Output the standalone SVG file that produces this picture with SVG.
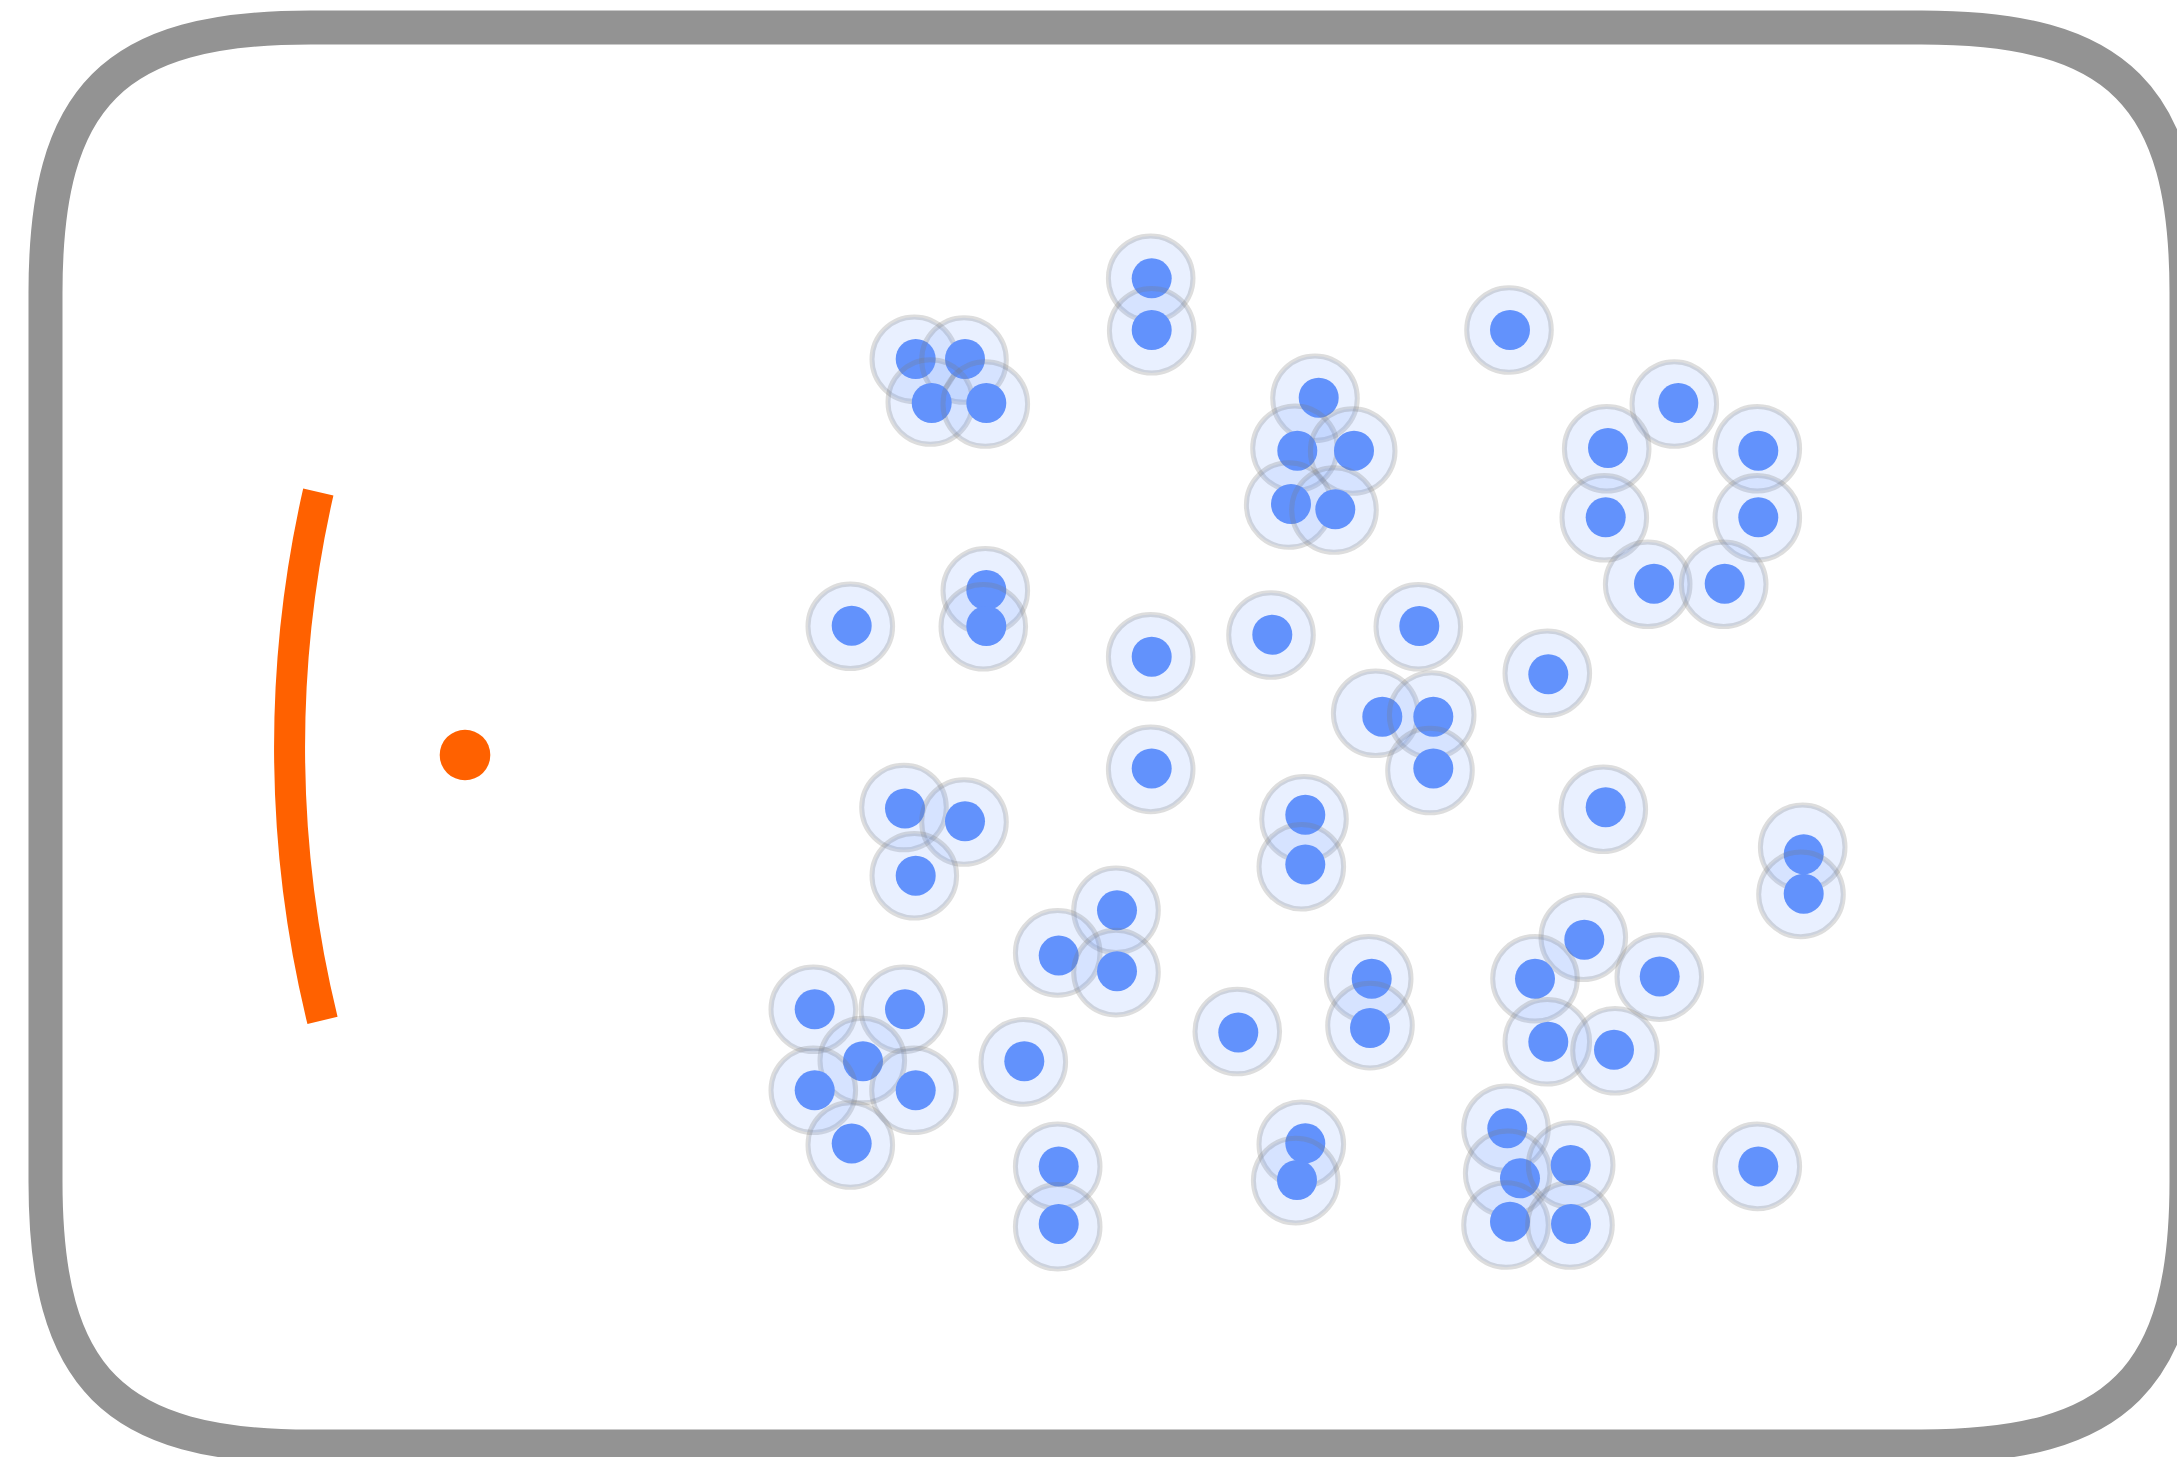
<svg xmlns="http://www.w3.org/2000/svg" width="2177" height="1457" viewBox="0 0 2177 1457">
<style>
.frame{fill:#ffffff;stroke:#939393;stroke-width:34}
.arc{fill:none;stroke:#ff6100;stroke-width:31;stroke-linecap:butt}
.src{fill:#ff6100}
.h{fill:#6292fc;fill-opacity:0.14;stroke:#7a7a7a;stroke-opacity:0.26;stroke-width:5}
.d{fill:#6292fc}
</style>
<rect x="0" y="0" width="2177" height="1457" fill="#ffffff"/>
<path id="frame" class="frame" d="M45.5 292.5 C45.5 95.5 113.5 27.5 310.5 27.5 L1921.5 27.5 C2118.5 27.5 2186.5 95.5 2186.5 292.5 L2186.5 1181.5 C2186.5 1378.5 2118.5 1446.5 1921.5 1446.5 L310.5 1446.5 C113.5 1446.5 45.5 1378.5 45.5 1181.5 Z"/>
<path id="arc" class="arc" d="M318.3 492 A1148.5 1148.5 0 0 0 322.5 1020.4"/>
<circle id="source" class="src" cx="465" cy="755" r="25.3"/>
<g id="connectors"></g>
<g id="nodes">
<g id="n1"><circle class="h" cx="914.3" cy="359.3" r="42.3"/><circle class="d" cx="915.7" cy="359" r="20"/></g>
<g id="n2"><circle class="h" cx="964" cy="360" r="42.3"/><circle class="d" cx="965" cy="359" r="20"/></g>
<g id="n3"><circle class="h" cx="930.3" cy="402" r="42.3"/><circle class="d" cx="931.7" cy="403" r="20"/></g>
<g id="n4"><circle class="h" cx="985.3" cy="404" r="42.3"/><circle class="d" cx="986.3" cy="403" r="20"/></g>
<g id="n5"><circle class="h" cx="1150.7" cy="278.3" r="42.3"/><circle class="d" cx="1151.7" cy="278.3" r="20"/></g>
<g id="n6"><circle class="h" cx="1151.7" cy="330.7" r="42.3"/><circle class="d" cx="1151.7" cy="330" r="20"/></g>
<g id="n7"><circle class="h" cx="1509" cy="330" r="42.3"/><circle class="d" cx="1510" cy="330" r="20"/></g>
<g id="n8"><circle class="h" cx="1315" cy="398.3" r="42.3"/><circle class="d" cx="1318.7" cy="397.7" r="20"/></g>
<g id="n9"><circle class="h" cx="1295" cy="448.3" r="42.3"/><circle class="d" cx="1297.3" cy="450.7" r="20"/></g>
<g id="n10"><circle class="h" cx="1352.7" cy="451" r="42.3"/><circle class="d" cx="1354" cy="450.7" r="20"/></g>
<g id="n11"><circle class="h" cx="1288.7" cy="505" r="42.3"/><circle class="d" cx="1291" cy="504" r="20"/></g>
<g id="n12"><circle class="h" cx="1334" cy="510" r="42.3"/><circle class="d" cx="1335.3" cy="509.3" r="20"/></g>
<g id="n13"><circle class="h" cx="1674.3" cy="404" r="42.3"/><circle class="d" cx="1678.3" cy="403" r="20"/></g>
<g id="n14"><circle class="h" cx="1606.7" cy="448.7" r="42.3"/><circle class="d" cx="1608" cy="448" r="20"/></g>
<g id="n15"><circle class="h" cx="1757.3" cy="448.7" r="42.3"/><circle class="d" cx="1758.3" cy="450.7" r="20"/></g>
<g id="n16"><circle class="h" cx="1604.3" cy="517.7" r="42.3"/><circle class="d" cx="1605.7" cy="517.3" r="20"/></g>
<g id="n17"><circle class="h" cx="1757.3" cy="517.7" r="42.3"/><circle class="d" cx="1758.3" cy="517.3" r="20"/></g>
<g id="n18"><circle class="h" cx="1647.7" cy="584.3" r="42.3"/><circle class="d" cx="1654" cy="583.7" r="20"/></g>
<g id="n19"><circle class="h" cx="1723.7" cy="584.3" r="42.3"/><circle class="d" cx="1724.7" cy="583.7" r="20"/></g>
<g id="n20"><circle class="h" cx="850.3" cy="626.3" r="42.3"/><circle class="d" cx="851.7" cy="625.7" r="20"/></g>
<g id="n21"><circle class="h" cx="985.3" cy="590.7" r="42.3"/><circle class="d" cx="986.3" cy="590" r="20"/></g>
<g id="n22"><circle class="h" cx="983.3" cy="626.7" r="42.3"/><circle class="d" cx="986.3" cy="626" r="20"/></g>
<g id="n23"><circle class="h" cx="1150.7" cy="656.7" r="42.3"/><circle class="d" cx="1151.7" cy="656.7" r="20"/></g>
<g id="n24"><circle class="h" cx="1271" cy="635" r="42.3"/><circle class="d" cx="1272.3" cy="634.7" r="20"/></g>
<g id="n25"><circle class="h" cx="1418.3" cy="626.7" r="42.3"/><circle class="d" cx="1419.3" cy="626" r="20"/></g>
<g id="n26"><circle class="h" cx="1547.3" cy="673.3" r="42.3"/><circle class="d" cx="1548.3" cy="674.3" r="20"/></g>
<g id="n27"><circle class="h" cx="1375.7" cy="713.3" r="42.3"/><circle class="d" cx="1382.3" cy="716.7" r="20"/></g>
<g id="n28"><circle class="h" cx="1431.7" cy="715" r="42.3"/><circle class="d" cx="1433.3" cy="716.7" r="20"/></g>
<g id="n29"><circle class="h" cx="1430" cy="770.5" r="42.3"/><circle class="d" cx="1433.3" cy="768.4" r="20"/></g>
<g id="n30"><circle class="h" cx="1150.7" cy="769.4" r="42.3"/><circle class="d" cx="1151.7" cy="768.4" r="20"/></g>
<g id="n31"><circle class="h" cx="904" cy="807.5" r="42.3"/><circle class="d" cx="905" cy="808.5" r="20"/></g>
<g id="n32"><circle class="h" cx="964" cy="822" r="42.3"/><circle class="d" cx="965" cy="821.3" r="20"/></g>
<g id="n33"><circle class="h" cx="914.3" cy="875.7" r="42.3"/><circle class="d" cx="915.7" cy="875.7" r="20"/></g>
<g id="n34"><circle class="h" cx="1304" cy="818.9" r="42.3"/><circle class="d" cx="1305.3" cy="814.8" r="20"/></g>
<g id="n35"><circle class="h" cx="1301.3" cy="866.7" r="42.3"/><circle class="d" cx="1305.3" cy="864.6" r="20"/></g>
<g id="n36"><circle class="h" cx="1603.3" cy="809.2" r="42.3"/><circle class="d" cx="1605.7" cy="807.2" r="20"/></g>
<g id="n37"><circle class="h" cx="1802.7" cy="847.3" r="42.3"/><circle class="d" cx="1803.7" cy="854.2" r="20"/></g>
<g id="n38"><circle class="h" cx="1801" cy="894.4" r="42.3"/><circle class="d" cx="1803.7" cy="893.7" r="20"/></g>
<g id="n39"><circle class="h" cx="1116" cy="910.3" r="42.3"/><circle class="d" cx="1117" cy="910.3" r="20"/></g>
<g id="n40"><circle class="h" cx="1057.7" cy="952.9" r="42.3"/><circle class="d" cx="1058.7" cy="955.6" r="20"/></g>
<g id="n41"><circle class="h" cx="1116" cy="972.6" r="42.3"/><circle class="d" cx="1117" cy="971.2" r="20"/></g>
<g id="n42"><circle class="h" cx="813.3" cy="1009.3" r="42.3"/><circle class="d" cx="814.7" cy="1009.3" r="20"/></g>
<g id="n43"><circle class="h" cx="903.3" cy="1009.3" r="42.3"/><circle class="d" cx="905" cy="1009.3" r="20"/></g>
<g id="n44"><circle class="h" cx="862.3" cy="1060.5" r="42.3"/><circle class="d" cx="863" cy="1061.2" r="20"/></g>
<g id="n45"><circle class="h" cx="813.3" cy="1090.3" r="42.3"/><circle class="d" cx="814.7" cy="1090.3" r="20"/></g>
<g id="n46"><circle class="h" cx="914" cy="1090.3" r="42.3"/><circle class="d" cx="915.7" cy="1090.3" r="20"/></g>
<g id="n47"><circle class="h" cx="850.3" cy="1145" r="42.3"/><circle class="d" cx="851.7" cy="1143.6" r="20"/></g>
<g id="n48"><circle class="h" cx="1023.3" cy="1061.9" r="42.3"/><circle class="d" cx="1024.3" cy="1061.2" r="20"/></g>
<g id="n49"><circle class="h" cx="1237.3" cy="1031.5" r="42.3"/><circle class="d" cx="1238.3" cy="1032.5" r="20"/></g>
<g id="n50"><circle class="h" cx="1368.7" cy="978.8" r="42.3"/><circle class="d" cx="1371.7" cy="978.8" r="20"/></g>
<g id="n51"><circle class="h" cx="1370" cy="1025.6" r="42.3"/><circle class="d" cx="1370" cy="1028" r="20"/></g>
<g id="n52"><circle class="h" cx="1057.7" cy="1166.4" r="42.3"/><circle class="d" cx="1058.7" cy="1166.4" r="20"/></g>
<g id="n53"><circle class="h" cx="1057.7" cy="1226.7" r="42.3"/><circle class="d" cx="1058.7" cy="1223.9" r="20"/></g>
<g id="n54"><circle class="h" cx="1301.3" cy="1144.3" r="42.3"/><circle class="d" cx="1305.3" cy="1143.3" r="20"/></g>
<g id="n55"><circle class="h" cx="1295.7" cy="1180.6" r="42.3"/><circle class="d" cx="1297" cy="1180" r="20"/></g>
<g id="n56"><circle class="h" cx="1583.3" cy="937.3" r="42.3"/><circle class="d" cx="1584.3" cy="939.7" r="20"/></g>
<g id="n57"><circle class="h" cx="1535" cy="978.8" r="42.3"/><circle class="d" cx="1535" cy="978.8" r="20"/></g>
<g id="n58"><circle class="h" cx="1659.3" cy="977.1" r="42.3"/><circle class="d" cx="1659.7" cy="976.4" r="20"/></g>
<g id="n59"><circle class="h" cx="1547.3" cy="1041.8" r="42.3"/><circle class="d" cx="1548.3" cy="1041.8" r="20"/></g>
<g id="n60"><circle class="h" cx="1615" cy="1050.8" r="42.3"/><circle class="d" cx="1614" cy="1049.8" r="20"/></g>
<g id="n61"><circle class="h" cx="1757.3" cy="1166.4" r="42.3"/><circle class="d" cx="1758.3" cy="1166.4" r="20"/></g>
<g id="n62"><circle class="h" cx="1506" cy="1128.3" r="42.3"/><circle class="d" cx="1507.3" cy="1128.3" r="20"/></g>
<g id="n63"><circle class="h" cx="1507.7" cy="1173.3" r="42.3"/><circle class="d" cx="1520" cy="1178.3" r="20"/></g>
<g id="n64"><circle class="h" cx="1570.7" cy="1165" r="42.3"/><circle class="d" cx="1570.7" cy="1165" r="20"/></g>
<g id="n65"><circle class="h" cx="1506" cy="1225" r="42.3"/><circle class="d" cx="1510" cy="1221.7" r="20"/></g>
<g id="n66"><circle class="h" cx="1570" cy="1225" r="42.3"/><circle class="d" cx="1571" cy="1224" r="20"/></g>
</g>
</svg>
